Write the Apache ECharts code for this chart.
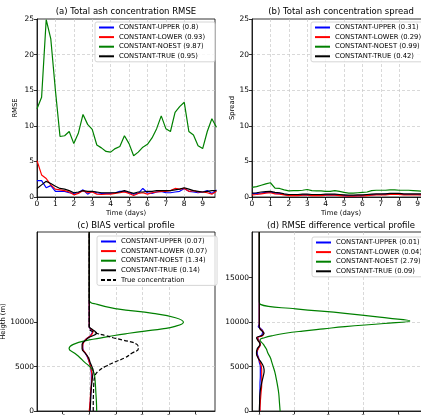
<!DOCTYPE html>
<html>
<head>
<meta charset="utf-8">
<script src="https://cdn.jsdelivr.net/npm/echarts@6/dist/echarts.min.js"></script>
<style>
html, body { margin: 0; padding: 0; background: #fff; }
#chart { width: 421px; height: 415px; }
</style>
</head>
<body>
<div id="chart"></div>
<script>
// time axis (days)
var times = [0, 0.25, 0.5, 0.75, 1, 1.25, 1.5, 1.75, 2, 2.25,
    2.5, 2.75, 3, 3.25, 3.5, 3.75, 4, 4.25, 4.5, 4.75,
    5, 5.25, 5.5, 5.75, 6, 6.25, 6.5, 6.75, 7, 7.25,
    7.5, 7.75, 8, 8.25, 8.5, 8.75, 9, 9.25, 9.5, 9.75];

// (a) RMSE
var aUpper = [2.3, 2.3, 1.3, 1.6, 0.8, 0.8, 0.8, 0.6, 0.5, 0.6, 1.0, 0.4, 0.8, 0.6, 0.5, 0.5, 0.5, 0.6, 0.8, 0.8,
    0.6, 0.4, 0.5, 1.2, 0.6, 0.5, 0.7, 0.8, 0.6, 0.6, 0.7, 0.8, 1.2, 0.8, 0.7, 0.6, 0.7, 0.9, 0.5, 1.0];
var aLower = [5.1, 3.1, 2.6, 1.7, 1.1, 1.0, 0.9, 0.7, 0.3, 0.5, 0.9, 0.6, 0.7, 0.4, 0.35, 0.4, 0.4, 0.5, 0.6, 0.7,
    0.5, 0.2, 0.5, 0.6, 0.4, 0.6, 0.7, 0.8, 0.8, 0.9, 1.2, 1.1, 1.2, 0.8, 0.9, 0.7, 0.7, 0.6, 0.4, 0.8];
var aNoest = [12.4, 14.0, 24.9, 22.2, 15.0, 8.5, 8.6, 9.2, 7.5, 9.0, 11.6, 10.2, 9.5, 7.3, 6.9, 6.4, 6.3, 6.8, 7.1, 8.6,
    7.5, 5.8, 6.3, 7.0, 7.4, 8.3, 9.6, 11.4, 9.6, 9.2, 11.9, 12.7, 13.3, 9.2, 8.7, 7.2, 6.8, 9.2, 11.0, 9.8];
var aTrue = [1.2, 1.7, 2.2, 1.9, 1.5, 1.2, 1.1, 0.9, 0.6, 0.7, 0.9, 0.8, 0.8, 0.7, 0.6, 0.6, 0.6, 0.6, 0.7, 0.9,
    0.7, 0.5, 0.7, 0.7, 0.8, 0.8, 0.9, 0.9, 0.9, 0.9, 1.0, 1.1, 1.3, 1.1, 0.9, 0.8, 0.7, 0.8, 0.9, 0.9];

// (b) spread
var bUpper = [0.45, 0.5, 0.55, 0.65, 0.7, 0.55, 0.5, 0.35, 0.25, 0.25, 0.25, 0.3, 0.3, 0.25, 0.25, 0.25, 0.3, 0.3, 0.3, 0.25,
    0.2, 0.15, 0.15, 0.2, 0.2, 0.25, 0.3, 0.35, 0.35, 0.4, 0.45, 0.4, 0.4, 0.35, 0.35, 0.35, 0.35, 0.3, 0.3, 0.3];
var bLower = [0.3, 0.35, 0.45, 0.55, 0.6, 0.45, 0.4, 0.3, 0.2, 0.2, 0.2, 0.25, 0.25, 0.2, 0.2, 0.2, 0.25, 0.25, 0.25, 0.2,
    0.15, 0.12, 0.12, 0.15, 0.15, 0.2, 0.25, 0.3, 0.3, 0.3, 0.35, 0.35, 0.35, 0.3, 0.3, 0.3, 0.3, 0.3, 0.3, 0.3];
var bNoest = [1.35, 1.45, 1.65, 1.85, 2.0, 1.25, 1.2, 1.0, 0.85, 0.9, 0.9, 0.95, 1.05, 0.9, 0.85, 0.85, 0.8, 0.8, 0.9, 0.8,
    0.65, 0.55, 0.55, 0.6, 0.65, 0.7, 0.9, 0.95, 0.95, 0.95, 1.0, 1.0, 0.95, 0.95, 0.95, 0.9, 0.85, 0.8, 0.85, 0.8];
var bTrue = [0.55, 0.6, 0.7, 0.75, 0.8, 0.65, 0.6, 0.45, 0.35, 0.35, 0.35, 0.4, 0.4, 0.35, 0.35, 0.35, 0.4, 0.4, 0.4, 0.35,
    0.3, 0.25, 0.25, 0.3, 0.3, 0.35, 0.4, 0.45, 0.45, 0.45, 0.5, 0.5, 0.5, 0.45, 0.45, 0.45, 0.45, 0.45, 0.45, 0.45];

// (c) bias vertical profile
var hC = [0, 1000, 2000, 3000, 4000, 4500, 5000, 5500, 6000, 6500, 7000, 7500, 8000, 8250, 8500, 8750, 9000, 9250, 9500,
    10000, 10500, 11000, 11500, 12000, 12500, 20150];
var cUpper = [0.02, 0.04, 0.06, 0.08, 0.08, 0.07, 0.05, 0.0, -0.06, -0.15, -0.24, -0.25, -0.15, -0.05, 0.05, 0.1, 0.12, 0.04, 0,
    0, 0, 0, 0, 0, 0, 0];
var cLower = [0.0, 0.03, 0.05, 0.08, 0.1, 0.08, 0.05, 0.0, -0.05, -0.14, -0.25, -0.24, -0.15, -0.05, 0.06, 0.12, 0.15, 0.05, 0,
    0, 0, 0, 0, 0, 0, 0];
var cNoest = [0.28, 0.27, 0.25, 0.23, 0.2, 0.15, 0.02, -0.18, -0.35, -0.55, -0.76, -0.6, 0.0, 0.5, 0.95, 1.5, 2.1, 2.75, 3.2,
    3.55, 3.25, 2.4, 1.05, 0.3, 0, 0];
var cTrue = [0.03, 0.05, 0.06, 0.09, 0.13, 0.15, 0.1, 0.03, -0.03, -0.15, -0.27, -0.27, -0.12, -0.03, 0.15, 0.28, 0.2, 0.08, 0,
    0, 0, 0, 0, 0, 0, 0];
var cConc = [0.15, 0.15, 0.16, 0.17, 0.22, 0.35, 0.6, 0.95, 1.35, 1.6, 1.85, 1.8, 1.25, 0.9, 0.6, 0.28, 0.08, 0, 0,
    0, 0, 0, 0, 0, 0, 0];

// (d) RMSE difference vertical profile
var hD = [0, 1000, 2000, 3000, 4000, 4500, 5000, 5500, 6000, 6500, 7000, 7500, 8000, 8250, 8500, 8750, 9000, 9250, 9500,
    9850, 10130, 10450, 11000, 11500, 12000, 12500, 20150];
var dUpper = [0.01, 0.01, 0.02, 0.02, 0.03, 0.03, 0.03, 0.0, -0.02, -0.06, -0.04, 0.03, -0.02, -0.05, 0.06, 0.09, 0.1, 0.05, -0.03,
    0, 0, 0, 0, 0, 0, 0, 0];
var dLower = [0.02, 0.03, 0.05, 0.07, 0.07, 0.07, 0.06, 0.02, -0.03, -0.08, -0.03, 0.03, -0.03, -0.05, 0.1, 0.12, 0.1, 0.03, 0,
    0, 0, 0, 0, 0, 0, 0, 0];
var dNoest = [0.6, 0.58, 0.56, 0.52, 0.47, 0.44, 0.4, 0.36, 0.32, 0.25, 0.2, 0.12, 0.02, 0.15, 0.4, 0.75, 1.25, 1.85, 2.47,
    3.6, 4.34, 3.72, 2.47, 1.05, 0.03, 0, 0];
var dTrue = [0, 0.01, 0.02, 0.06, 0.12, 0.14, 0.12, 0.05, -0.04, -0.08, -0.06, 0.02, -0.05, -0.08, 0.08, 0.14, 0.08, 0.02, 0,
    0, 0, 0, 0, 0, 0, 0, 0];

// legend names
var namesA = ['CONSTANT-UPPER (0.8)', 'CONSTANT-LOWER (0.93)', 'CONSTANT-NOEST (9.87)', 'CONSTANT-TRUE (0.95)'];
var namesB = ['CONSTANT-UPPER (0.31)', 'CONSTANT-LOWER (0.29)', 'CONSTANT-NOEST (0.99)', 'CONSTANT-TRUE (0.42)'];
var namesC = ['CONSTANT-UPPER (0.07)', 'CONSTANT-LOWER (0.07)', 'CONSTANT-NOEST (1.34)', 'CONSTANT-TRUE (0.14)', 'True concentration'];
var namesD = ['CONSTANT-UPPER (0.01)', 'CONSTANT-LOWER (0.04)', 'CONSTANT-NOEST (2.79)', 'CONSTANT-TRUE (0.09)'];

// tick values
var dayTicks = [0, 1, 2, 3, 4, 5, 6, 7, 8, 9];
var valTicks = [0, 5, 10, 15, 20, 25];
var biasTicks = [-1, 0, 1, 2, 3, 4];
var diffTicks = [0, 1, 2, 3, 4];
var hTicksC = [0, 5000, 10000];
var hTicksD = [0, 5000, 10000, 15000];

var colors = ['#0000ff', '#ff0000', '#008000', '#000000'];
var FONT = 'DejaVu Sans';

var dom = document.getElementById('chart');
var myChart = echarts.init(dom, null, { renderer: 'canvas' });

function axis(gi, min, max, ticks, extra) {
    var a = {
        gridIndex: gi,
        type: 'value',
        min: min,
        max: max,
        axisLine: { show: true, onZero: false, lineStyle: { color: '#000', width: 0.8 } },
        axisTick: { show: true, length: 3, customValues: ticks, lineStyle: { color: '#000', width: 0.8 } },
        axisLabel: { customValues: ticks, color: '#000', fontSize: 7.5, fontFamily: FONT, margin: 3,
            formatter: function (v) { return String(v); } },
        splitLine: { show: true, showMinLine: false, showMaxLine: false,
            lineStyle: { color: '#c8c8c8', type: [3, 2], width: 0.7 } },
        nameTextStyle: { color: '#000', fontSize: 6.8, fontFamily: FONT },
        nameLocation: 'middle'
    };
    for (var k in extra) a[k] = extra[k];
    return a;
}

function timeSeries(name, vals, color, gi) {
    return {
        name: name, type: 'line', xAxisIndex: gi, yAxisIndex: gi,
        data: times.map(function (t, i) { return [t, vals[i]]; }),
        symbol: 'none', lineStyle: { color: color, width: 1.2 }, itemStyle: { color: color },
        animation: false
    };
}

function profSeries(name, vals, hs, color, gi, dashed) {
    return {
        name: name, type: 'line', xAxisIndex: gi, yAxisIndex: gi,
        data: hs.map(function (h, i) { return [vals[i], h]; }),
        symbol: 'none', smooth: 0.45,
        lineStyle: { color: color, width: 1.2, type: dashed ? [4, 2] : 'solid' }, itemStyle: { color: color },
        animation: false
    };
}

function legend(names, left, top) {
    return {
        data: names, left: left, top: top, orient: 'vertical',
        itemWidth: 15, itemHeight: 8, itemGap: 2.6,
        padding: [2, 10, 2, 3],
        borderColor: '#cccccc', borderWidth: 0.8, borderRadius: 2,
        backgroundColor: 'rgba(255,255,255,0.8)',
        selectedMode: false,
        itemStyle: { opacity: 0, borderWidth: 0 },
        textStyle: { color: '#000', fontSize: 6.8, fontFamily: FONT }
    };
}

function title(text, x, y) {
    return {
        text: text, left: x, top: y, textAlign: 'center', padding: 0,
        textStyle: { color: '#000', fontSize: 8.5, fontWeight: 'normal', fontFamily: FONT }
    };
}

function grid(l, t, w, h) {
    return {
        left: l, top: t, width: w, height: h,
        show: true, borderColor: '#000', borderWidth: 0.8, backgroundColor: '#fff',
        containLabel: false, outerBoundsMode: 'none'
    };
}

var series = [];
[aUpper, aLower, aNoest, aTrue].forEach(function (v, i) { series.push(timeSeries(namesA[i], v, colors[i], 0)); });
[bUpper, bLower, bNoest, bTrue].forEach(function (v, i) { series.push(timeSeries(namesB[i], v, colors[i], 1)); });
[cUpper, cLower, cNoest, cTrue].forEach(function (v, i) { series.push(profSeries(namesC[i], v, hC, colors[i], 2, false)); });
series.push(profSeries(namesC[4], cConc, hC, '#000000', 2, true));
[dUpper, dLower, dNoest, dTrue].forEach(function (v, i) { series.push(profSeries(namesD[i], v, hD, colors[i], 3, false)); });

option = {
    backgroundColor: '#fff',
    animation: false,
    title: [
        title('(a) Total ash concentration RMSE', 126, 7),
        title('(b) Total ash concentration spread', 341, 7),
        title('(c) BIAS vertical profile', 126, 221),
        title('(d) RMSE difference vertical profile', 341, 221)
    ],
    legend: [
        legend(namesA, 95, 22),
        legend(namesB, 311, 22),
        legend(namesC, 97, 236),
        legend(namesD, 312, 237)
    ],
    grid: [
        grid(37, 19, 178, 178),
        grid(252, 19, 178, 178),
        grid(37, 232, 178, 179),
        grid(252, 232, 178, 179)
    ],
    xAxis: [
        axis(0, 0, 9.67, dayTicks, { name: 'Time (days)', nameGap: 13 }),
        axis(1, 0, 9.67, dayTicks, { name: 'Time (days)', nameGap: 13 }),
        axis(2, -1.97, 4.74, biasTicks, {}),
        axis(3, -0.21, 4.92, diffTicks, {})
    ],
    yAxis: [
        axis(0, 0, 25, valTicks, { name: 'RMSE', nameGap: 18 }),
        axis(1, 0, 25, valTicks, { name: 'Spread', nameGap: 16 }),
        axis(2, 0, 20150, hTicksC, { name: 'Heigth (m)', nameGap: 30 }),
        axis(3, 0, 20150, hTicksD, {})
    ],
    series: series
};

if (option && typeof option === 'object') {
    myChart.setOption(option, true);
}
</script>
</body>
</html>
